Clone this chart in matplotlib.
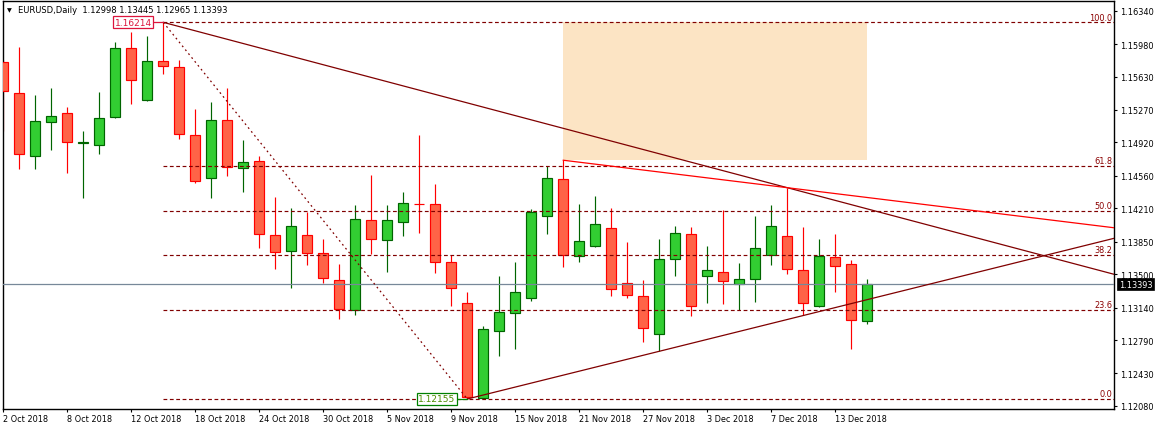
import matplotlib
matplotlib.use("Agg")
import matplotlib.pyplot as plt
from matplotlib.patches import Rectangle
import matplotlib.transforms as mtransforms

# ---------------- data ----------------
opens = [1.15784, 1.15450, 1.14771, 1.15137, 1.15234, 1.14914, 1.14889, 1.15191, 1.15934, 1.15374,
         1.15798, 1.15730, 1.14997, 1.14534, 1.15159, 1.14641, 1.14717, 1.13919, 1.13753, 1.13922,
         1.13725, 1.13434, 1.13111, 1.14081, 1.13865, 1.14066, 1.14260, 1.14253, 1.13628, 1.13190,
         1.12163, 1.12885, 1.13079, 1.13247, 1.14130, 1.14526, 1.13696, 1.13801, 1.13995, 1.13402,
         1.13262, 1.12852, 1.13661, 1.13930, 1.13477, 1.13520, 1.13398, 1.13445, 1.13710, 1.13908,
         1.13542, 1.13154, 1.13682, 1.13607, 1.12998]
highs = [1.15808, 1.15945, 1.15431, 1.15507, 1.15302, 1.15043, 1.15464, 1.16002, 1.16113, 1.16067,
         1.16214, 1.15808, 1.15280, 1.15356, 1.15503, 1.14946, 1.14774, 1.14332, 1.14210, 1.14167,
         1.13879, 1.13610, 1.14246, 1.14569, 1.14246, 1.14386, 1.15003, 1.14472, 1.13707, 1.13308,
         1.12942, 1.13484, 1.13631, 1.14203, 1.14663, 1.14728, 1.14257, 1.14343, 1.14213, 1.13847,
         1.13438, 1.13879, 1.14016, 1.14009, 1.13804, 1.14189, 1.13621, 1.14127, 1.14246, 1.14432,
         1.14009, 1.13879, 1.13933, 1.13653, 1.13445]
lows = [1.15046, 1.14637, 1.14637, 1.14842, 1.14594, 1.14324, 1.14799, 1.15180, 1.15337, 1.15370,
        1.15661, 1.14960, 1.14486, 1.14324, 1.14562, 1.14389, 1.13786, 1.13559, 1.13355, 1.13602,
        1.13402, 1.13017, 1.13064, 1.13714, 1.13524, 1.13915, 1.13947, 1.13516, 1.13160, 1.12155,
        1.12158, 1.12622, 1.12697, 1.13214, 1.13933, 1.13581, 1.13635, 1.13793, 1.13268, 1.13247,
        1.12773, 1.12669, 1.13484, 1.13053, 1.13193, 1.13182, 1.13111, 1.13204, 1.13602, 1.13505,
        1.13060, 1.13150, 1.13311, 1.12697, 1.12965]
closes = [1.15471, 1.14792, 1.15148, 1.15202, 1.14922, 1.14922, 1.15180, 1.15934, 1.15590, 1.15794,
          1.15740, 1.15008, 1.14508, 1.15159, 1.14652, 1.14706, 1.13930, 1.13736, 1.14016, 1.13725,
          1.13456, 1.13125, 1.14095, 1.13876, 1.14081, 1.14264, 1.14253, 1.13635, 1.13348, 1.12173,
          1.12909, 1.13089, 1.13308, 1.14167, 1.14534, 1.13704, 1.13855, 1.14038, 1.13337, 1.13273,
          1.12917, 1.13661, 1.13941, 1.13154, 1.13542, 1.13424, 1.13445, 1.13779, 1.14016, 1.13553,
          1.13186, 1.13693, 1.13585, 1.13003, 1.13393]

xtick_pos = [0, 4, 8, 12, 16, 20, 24, 28, 32, 36, 40, 44, 48, 52]
xtick_labels = ["2 Oct 2018", "8 Oct 2018", "12 Oct 2018", "18 Oct 2018", "24 Oct 2018",
                "30 Oct 2018", "5 Nov 2018", "9 Nov 2018", "15 Nov 2018", "21 Nov 2018",
                "27 Nov 2018", "3 Dec 2018", "7 Dec 2018", "13 Dec 2018"]
ytick_vals = [1.16340, 1.15980, 1.15630, 1.15270, 1.14920, 1.14560, 1.14210,
              1.13850, 1.13500, 1.13140, 1.12790, 1.12430, 1.12080]

fib_levels = [0.0, 23.6, 38.2, 50.0, 61.8, 100.0]
fib_hi_bar, fib_lo_bar = 10, 29
res_anchor = (10, 49)        # bars whose highs define the dark resistance line
sup_anchor = (29, 41)        # bars whose lows define the support line
red_anchor = (35, 49)        # bars whose highs define the red line
rect_bars = (35, 54)
header = "EURUSD,Daily  1.12998 1.13445 1.12965 1.13393"
last_price = closes[-1]

# ---------------- style ----------------
FS = 5.9
W, H = 1157, 431
fig = plt.figure(figsize=(W / 100, H / 100), dpi=100)
left_px, right_px, top_px, bot_px = 2.5, 1114, 2, 410
ax = fig.add_axes([left_px / W, (H - bot_px) / H, (right_px - left_px) / W, (bot_px - top_px) / H])

XMIN, XMAX = -0.05, 69.42
YMIN, YMAX = 1.12047, 1.16444
ax.set_xlim(XMIN, XMAX)
ax.set_ylim(YMIN, YMAX)

for s in ax.spines.values():
    s.set_color("black")
    s.set_linewidth(1.0)

# candles
bw = 0.64
for i, (o, h, l, c) in enumerate(zip(opens, highs, lows, closes)):
    bull = c >= o
    wick_col = "#006400" if bull else "#FF0000"
    body_col = "#32CD32" if bull else "#FF6347"
    ax.vlines(i, l, h, color=wick_col, linewidth=0.85, zorder=2)
    ax.bar(i, max(abs(c - o), 0.00001), bottom=min(o, c), width=bw, color=body_col,
           edgecolor=wick_col, linewidth=0.85, zorder=3)

# rectangle zone
r0, r1 = rect_bars
ax.add_patch(Rectangle((r0, highs[r0]), r1 - r0, highs[fib_hi_bar] - highs[r0],
                       facecolor="#FCE4C4", edgecolor="none", zorder=0.5))

# current price line
ax.axhline(last_price, color="#778899", linewidth=0.9, zorder=4)

# fibonacci
hi = highs[fib_hi_bar]
lo = lows[fib_lo_bar]
blend = mtransforms.blended_transform_factory(ax.transAxes, ax.transData)
for lv in fib_levels:
    p = lo + (hi - lo) * lv / 100.0
    ax.plot([fib_hi_bar, XMAX], [p, p], color="#800000", linewidth=0.85,
            linestyle=(0, (3.2, 2.2)), zorder=4)
    ax.annotate(f"{lv:.1f}", xy=(1.0, p), xycoords=blend, xytext=(-1.2, 0.6),
                textcoords="offset points", ha="right", va="bottom", fontsize=FS,
                color="#8B0000", zorder=6)
ax.plot([fib_hi_bar, fib_lo_bar], [hi, lo], color="#800000", linewidth=0.9,
        linestyle=(0, (1.4, 2.6)), zorder=4)

# trend lines
def ray(b0, p0, b1, p1, **kw):
    slope = (p1 - p0) / (b1 - b0)
    ax.plot([b0, XMAX], [p0, p0 + slope * (XMAX - b0)], **kw)

ray(res_anchor[0], highs[res_anchor[0]], res_anchor[1], highs[res_anchor[1]],
    color="#800000", linewidth=0.9, zorder=4)
ray(sup_anchor[0], lows[sup_anchor[0]], sup_anchor[1], lows[sup_anchor[1]],
    color="#800000", linewidth=0.9, zorder=4)
ray(red_anchor[0], highs[red_anchor[0]], red_anchor[1], highs[red_anchor[1]],
    color="#FF0000", linewidth=0.9, zorder=4)

# price labels for hi / lo
ax.plot([fib_hi_bar - 0.6, fib_hi_bar], [hi, hi], color="#DC143C", linewidth=0.9, zorder=5)
ax.annotate(f"{hi:.5f}", xy=(fib_hi_bar, hi), xytext=(-8.4, 0), textcoords="offset points",
            ha="right", va="center", fontsize=6.5, color="#DC143C", zorder=6,
            bbox=dict(boxstyle="square,pad=0.18", fc="white", ec="#DC143C", lw=0.9))
ax.plot([fib_lo_bar - 0.6, fib_lo_bar], [lo, lo], color="#008000", linewidth=0.9, zorder=5)
ax.annotate(f"{lo:.5f}", xy=(fib_lo_bar, lo), xytext=(-8.4, 0), textcoords="offset points",
            ha="right", va="center", fontsize=6.5, color="#4C8C00", zorder=6,
            bbox=dict(boxstyle="square,pad=0.18", fc="white", ec="#008000", lw=0.9))

# axes ticks
ax.yaxis.tick_right()
ax.set_yticks(ytick_vals)
ax.set_yticklabels([f"{v:.5f}" for v in ytick_vals], fontsize=FS)
ax.tick_params(axis="y", direction="out", length=2.3, width=0.8, pad=2.0, colors="black")
ax.set_xticks(xtick_pos)
ax.set_xticklabels(xtick_labels, fontsize=FS, ha="left")
ax.tick_params(axis="x", direction="out", length=2.3, width=0.8, pad=1.5, colors="black")
for lab in ax.get_xticklabels():
    lab.set_horizontalalignment("left")

# last price box on the axis
ax.annotate(f"{last_price:.5f}", xy=(1.0, last_price), xycoords=blend, xytext=(3.6, 0),
            textcoords="offset points", ha="left", va="center", fontsize=FS, color="white",
            annotation_clip=False, zorder=7,
            bbox=dict(boxstyle="square,pad=0.2", fc="black", ec="black", lw=0.5))

# header
fig.text(9.7 / W, 1 - 10.8 / H, "\u25BC", fontsize=4.5, ha="center", va="center", color="black")
fig.text(18 / W, 1 - 10.6 / H, header, fontsize=6.0, ha="left", va="center", color="black")

fig.savefig("out.png", dpi=100)
